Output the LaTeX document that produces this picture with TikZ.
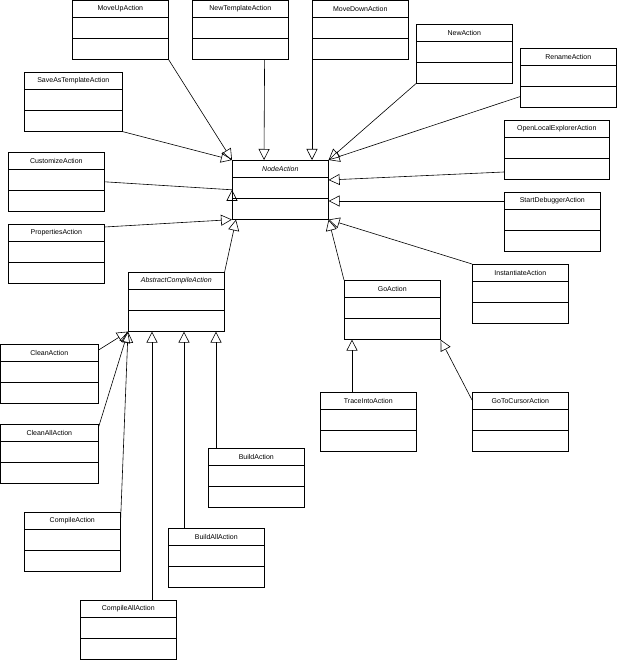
\documentclass[tikz,border=0pt]{standalone}
\usepackage{fontspec}
\setmainfont{Liberation Sans}
\usetikzlibrary{arrows.meta,calc}

% one UML class box: name, x, y, width, label
\newcommand\umlbox[5]{
  \node [cls, minimum width=#4pt] (#1) at (#2,#3) {};
  \draw ($(#1.north west)+(0,17)$) -- ++(#4,0);
  \draw ($(#1.north west)+(0,38)$) -- ++(#4,0);
  \node [lbl] (#1-t) at ($(#1.north)+(0,9)$) {#5};
}

\tikzset{
  cls/.style={draw, anchor=north west, inner sep=0pt, minimum height=59pt, line width=0.6pt},
  lbl/.style={inner sep=0pt, font=\fontsize{7}{8}\selectfont},
  inh/.style={-{Triangle[open,length=11pt,width=11pt]}, line width=0.6pt}
}

\begin{document}
\begin{tikzpicture}[x=1pt,y=-1pt]
    \useasboundingbox (0,0) rectangle (617,660);

    \umlbox{moveup}{72}{0}{96}{MoveUpAction}
    \umlbox{newtemplate}{192}{0}{96}{NewTemplateAction}
    \umlbox{movedown}{312}{0}{96}{MoveDownAction}
    \umlbox{new}{416}{24}{96}{NewAction}
    \umlbox{rename}{520}{48}{96}{RenameAction}
    \umlbox{saveas}{24}{72}{98}{SaveAsTemplateAction}
    \umlbox{openlocal}{504}{120}{105}{OpenLocalExplorerAction}
    \umlbox{customize}{8}{152}{96}{CustomizeAction}
    \umlbox{node}{232}{160}{96}{\textit{NodeAction}}
    \umlbox{startdbg}{504}{192}{96}{StartDebuggerAction}
    \umlbox{properties}{8}{224}{96}{PropertiesAction}
    \umlbox{instantiate}{472}{264}{96}{InstantiateAction}
    \umlbox{abscompile}{128}{272}{96}{\textit{AbstractCompileAction}}
    \umlbox{go}{344}{280}{96}{GoAction}
    \umlbox{clean}{0}{344}{98}{CleanAction}
    \umlbox{traceinto}{320}{392}{96}{TraceIntoAction}
    \umlbox{gotocursor}{472}{392}{96}{GoToCursorAction}
    \umlbox{cleanall}{0}{424}{98}{CleanAllAction}
    \umlbox{build}{208}{448}{96}{BuildAction}
    \umlbox{compile}{24}{512}{96}{CompileAction}
    \umlbox{buildall}{168}{528}{96}{BuildAllAction}
    \umlbox{compileall}{80}{600}{96}{CompileAllAction}

    % inheritance to NodeAction
    \draw [inh] (moveup.south east) -- (node.north west);
    \draw [inh] (saveas.south east) -- (node.north west);
    \draw [inh] (customize.east) -- (node.west -| node.north west) ++(0,0);
    \draw [inh] ($(properties.north east)+(0,3)$) -- (node.south west);
    \draw [inh] (newtemplate.south east) ++(-24,0) -- ($(node.north west)+(32,0)$);
    \draw [inh] (movedown.south west) -- ($(node.north west)+(80,0)$);
    \draw [inh] (new.south west) -- (node.north east);
    \draw [inh] ($(rename.south west)+(0,-11)$) -- (node.north east);
    \draw [inh] ($(openlocal.north west)+(0,52)$) -- ($(node.north east)+(0,20)$);
    \draw [inh] ($(startdbg.north west)+(0,9)$) -- ($(node.north east)+(0,41)$);
    \draw [inh] (instantiate.north west) -- (node.south east);
    \draw [inh] (go.north west) -- (node.south east);
    \draw [inh] (abscompile.north east) -- ($(node.south west)+(4,0)$);

    % inheritance to AbstractCompileAction
    \draw [inh] ($(clean.north east)+(0,6)$) -- (abscompile.south west);
    \draw [inh] ($(cleanall.north east)+(0,3)$) -- (abscompile.south west);
    \draw [inh] ($(compile.north east)+(0,8)$) -- (abscompile.south west);
    \draw [inh] (compileall.north west) ++(72,0) -- ($(abscompile.south west)+(24,0)$);
    \draw [inh] (buildall.north west) ++(16,0) -- ($(abscompile.south west)+(56,0)$);
    \draw [inh] (build.north west) ++(8,0) -- ($(abscompile.south west)+(88,0)$);

    % inheritance to GoAction
    \draw [inh] ($(traceinto.north west)+(32,0)$) -- ($(go.south west)+(8,0)$);
    \draw [inh] ($(gotocursor.north west)+(0,8)$) -- (go.south east);
\end{tikzpicture}
\end{document}
